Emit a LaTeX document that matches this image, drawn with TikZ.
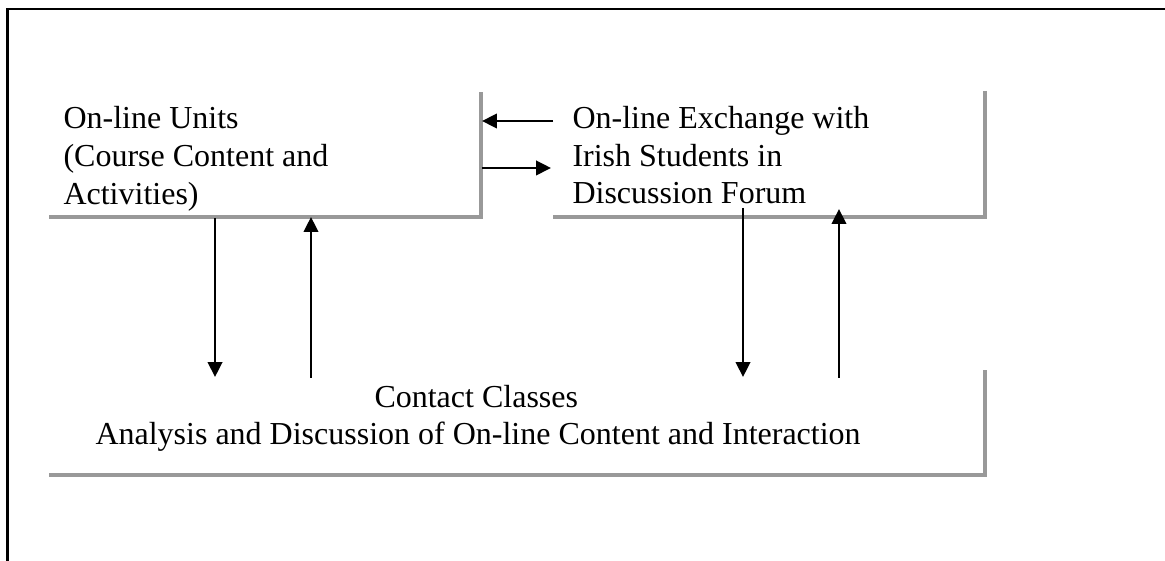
\documentclass[tikz,border=0pt]{standalone}
\usepackage{fontspec}
\setmainfont{Liberation Serif}
\usepackage{tikz}
\usetikzlibrary{arrows.meta}
\pgfdeclarelayer{edgelayer}
\pgfdeclarelayer{nodelayer}
\pgfsetlayers{edgelayer,nodelayer,main}
\definecolor{shadowgrey}{RGB}{153,153,153}
\tikzstyle{none}=[inner sep=0pt]
\tikzstyle{label}=[inner sep=0pt, anchor=base west, font=\fontsize{12}{14}\selectfont]
\tikzstyle{frame}=[line width=1.1pt, black]
\tikzstyle{shadow}=[line width=1.2pt, shadowgrey]
\tikzstyle{arrow}=[line width=1pt, black]

\begin{document}
\begin{tikzpicture}[>={Triangle[length=5.6pt,width=5.4pt]}]
	\useasboundingbox (0, 0) rectangle (15.355, -7.394);
	\begin{pgfonlayer}{nodelayer}
		% outer frame
		\node [style=none] (0) at (0.105, -7.394) {};
		\node [style=none] (1) at (0.105, -0.119) {};
		\node [style=none] (2) at (15.355, -0.119) {};
		% box corners
		\node [style=none] (3) at (6.340, -1.213) {};
		\node [style=none] (4) at (6.340, -2.860) {};
		\node [style=none] (5) at (0.646, -2.860) {};
		\node [style=none] (6) at (12.982, -1.199) {};
		\node [style=none] (7) at (12.982, -2.860) {};
		\node [style=none] (8) at (7.289, -2.860) {};
		\node [style=none] (9) at (12.982, -4.877) {};
		\node [style=none] (10) at (12.982, -6.261) {};
		\node [style=none] (11) at (0.646, -6.261) {};
		% texts
		\node [style=label] (12) at (0.830, -1.700) {On-line Units};
		\node [style=label] (13) at (0.830, -2.200) {(Course Content and};
		\node [style=label] (14) at (0.830, -2.690) {Activities)};
		\node [style=label] (15) at (7.539, -1.700) {On-line Exchange with};
		\node [style=label] (16) at (7.539, -2.195) {Irish Students in};
		\node [style=label] (17) at (7.539, -2.680) {Discussion Forum};
		\node [style=label] (18) at (4.929, -5.375) {Contact Classes};
		\node [style=label] (19) at (1.252, -5.862) {Analysis and Discussion of On-line Content and Interaction};
		% arrow ends
		\node [style=none] (20) at (7.289, -1.595) {};
		\node [style=none] (21) at (6.353, -1.595) {};
		\node [style=none] (22) at (6.353, -2.214) {};
		\node [style=none] (23) at (7.262, -2.214) {};
		\node [style=none] (24) at (2.834, -2.873) {};
		\node [style=none] (25) at (2.834, -4.969) {};
		\node [style=none] (26) at (4.099, -4.982) {};
		\node [style=none] (27) at (4.099, -2.860) {};
		\node [style=none] (28) at (9.793, -2.741) {};
		\node [style=none] (29) at (9.793, -4.969) {};
		\node [style=none] (30) at (11.058, -4.982) {};
		\node [style=none] (31) at (11.058, -2.755) {};
	\end{pgfonlayer}
	\begin{pgfonlayer}{edgelayer}
		\draw [style=frame] (0.center) to (1.center) to (2.center);
		\draw [style=shadow] (3.center) to (4.center) to (5.center);
		\draw [style=shadow] (6.center) to (7.center) to (8.center);
		\draw [style=shadow] (9.center) to (10.center) to (11.center);
		\draw [style=arrow, ->] (20.center) to (21.center);
		\draw [style=arrow, ->] (22.center) to (23.center);
		\draw [style=arrow, ->] (24.center) to (25.center);
		\draw [style=arrow, ->] (26.center) to (27.center);
		\draw [style=arrow, ->] (28.center) to (29.center);
		\draw [style=arrow, ->] (30.center) to (31.center);
	\end{pgfonlayer}
\end{tikzpicture}
\end{document}
